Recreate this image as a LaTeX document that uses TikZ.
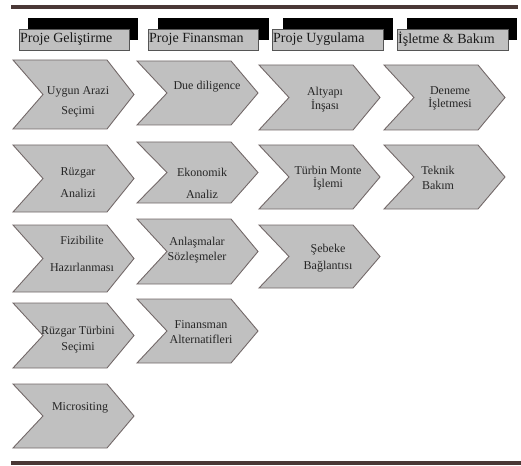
\documentclass[tikz,border=0pt]{standalone}
\usepackage{fontspec}
\setmainfont{Liberation Serif}
\definecolor{rulec}{RGB}{74,56,54}
\definecolor{boxfill}{RGB}{192,192,192}
\definecolor{chevline}{RGB}{115,105,105}
\definecolor{hdline}{RGB}{85,85,85}
\tikzset{
  chevbox/.style={fill=boxfill, draw=chevline, line width=0.9pt, line join=miter},
  chevtext/.style={align=center, inner sep=0pt, text=black!85, font=\fontsize{12}{#1}\selectfont},
  chevtext/.default=15,
  hdrbox/.style={fill=boxfill, draw=hdline, line width=0.9pt},
  hdrshadow/.style={fill=black},
  hdrtext/.style={anchor=west, inner sep=0pt, text=black!90, font=\fontsize{14}{17}\selectfont},
  rulebar/.style={fill=rulec}
}
\newcommand\chevshape[3]{%
  \path[chevbox] (#1,#2) -- ({#1+94},#2) -- ({#1+121},{(#2+#3)/2}) -- ({#1+94},#3) -- (#1,#3) -- ({#1+30},{(#2+#3)/2}) -- cycle;}
\begin{document}
\begin{tikzpicture}[x=1pt,y=-1pt]
\useasboundingbox (0,0) rectangle (521,465);
% rules
\path[rulebar] (11,5) rectangle (518,9);
\path[rulebar] (11,461) rectangle (521,465);
% header shadows and boxes
\path[hdrshadow] (28,18) rectangle (138,40);
\path[hdrshadow] (158,18) rectangle (269,40);
\path[hdrshadow] (283,18) rectangle (393,40);
\path[hdrshadow] (407,18) rectangle (517,40);
\path[hdrbox] (19,29) rectangle (129,50);
\path[hdrbox] (148,29) rectangle (258,50);
\path[hdrbox] (272,29) rectangle (383,50);
\path[hdrbox] (397,29) rectangle (508,50);
\node[hdrtext] (h1) at (20,39.5) {Proje Geliştirme};
\node[hdrtext] (h2) at (149,39.5) {Proje Finansman};
\node[hdrtext] (h3) at (273,39.5) {Proje Uygulama};
\node[hdrtext] (h4) at (398,39.5) {İşletme \& Bakım};
% chevrons column 1
\chevshape{13}{60}{129}
\chevshape{13}{145}{212}
\chevshape{13}{225}{292}
\chevshape{13}{303}{368}
\chevshape{13}{384}{448}
% column 2
\chevshape{137}{61}{125}
\chevshape{137}{142}{203}
\chevshape{137}{219}{284}
\chevshape{137}{299}{363}
% column 3
\chevshape{259}{65}{130}
\chevshape{259}{145}{209}
\chevshape{259}{225}{288}
% column 4
\chevshape{384}{65}{130}
\chevshape{384}{145}{209}
% texts
\node[chevtext=20] (n11) at (78,102) {Uygun Arazi\\Seçimi};
\node[chevtext=22] (n12) at (78,183) {Rüzgar\\Analizi};
\node[chevtext=27] (n13) at (82,253.5) {Fizibilite\\Hazırlanması};
\node[chevtext=16] (n14) at (78,340) {Rüzgar Türbini\\Seçimi};
\node[chevtext] (n15) at (80,408) {Micrositing};
\node[chevtext] (n21) at (207,87) {Due diligence};
\node[chevtext=22] (n22) at (202,183) {Ekonomik\\Analiz};
\node[chevtext=15] (n23) at (197,250.5) {Anlaşmalar\\Sözleşmeler};
\node[chevtext=15] (n24) at (201,332.5) {Finansman\\Alternatifleri};
\node[chevtext=14] (n31) at (325,100) {Altyapı\\İnşası};
\node[chevtext=13] (n32) at (328,178.5) {Türbin Monte\\İşlemi};
\node[chevtext=17] (n33) at (328,258.5) {Şebeke\\Bağlantısı};
\node[chevtext=13] (n41) at (450,98.5) {Deneme\\İşletmesi};
\node[chevtext=15] (n42) at (438,177.5) {Teknik\\Bakım};
\end{tikzpicture}
\end{document}
